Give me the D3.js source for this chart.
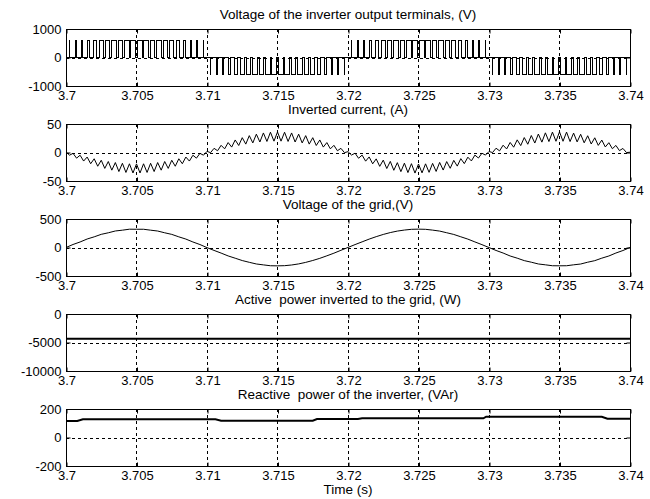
<!DOCTYPE html>
<html><head><meta charset="utf-8">
<script src="https://cdn.jsdelivr.net/npm/d3@7"></script>
<style>
body{margin:0;background:#fff}
svg{display:block}
text{font-family:"Liberation Sans",Arial,sans-serif;fill:#000}
</style>
</head><body>
<script>
// ---------------- data ----------------
const timeTicks = [3.7, 3.705, 3.71, 3.715, 3.72, 3.725, 3.73, 3.735, 3.74];
const timeTickLabels = ["3.7", "3.705", "3.71", "3.715", "3.72", "3.725", "3.73", "3.735", "3.74"];
const timeLabel = "Time (s)";

const panelTitles = [
  "Voltage of the inverter output terminals, (V)",
  "Inverted current, (A)",
  "Voltage of the grid,(V)",
  "Active  power inverted to the grid, (W)",
  "Reactive  power of the inverter, (VAr)"
];
const yTicks1 = [-1000, 0, 1000];
const yTicks2 = [-50, 0, 50];
const yTicks3 = [-500, 0, 500];
const yTicks4 = [-10000, -5000, 0];
const yTicks5 = [-200, 0, 200];

// Panel 1: PWM output voltage (duty of each switching pulse, per half cycle)
const pwmHalfCycleStart = [3.70, 3.71, 3.72, 3.73];
const pwmPolarity = [1, -1, 1, -1];
const pwmLevel = 600;
const pwmDuty1 = [0.06,0.17,0.27,0.37,0.47,0.55,0.62,0.69,0.73,0.76,0.78,0.78,0.76,0.73,0.68,0.63,0.55,0.46,0.38,0.27,0.16,0.06];
const pwmDuty2 = [0.05,0.16,0.28,0.38,0.46,0.56,0.63,0.68,0.74,0.76,0.77,0.78,0.77,0.73,0.69,0.62,0.55,0.47,0.37,0.28,0.17,0.05];
const pwmDuty3 = [0.06,0.17,0.27,0.38,0.47,0.55,0.63,0.69,0.73,0.77,0.78,0.77,0.76,0.74,0.68,0.62,0.56,0.46,0.37,0.27,0.16,0.06];
const pwmDuty4 = [0.05,0.16,0.27,0.37,0.47,0.56,0.62,0.68,0.73,0.76,0.78,0.78,0.76,0.73,0.69,0.63,0.55,0.47,0.38,0.28,0.17,0.06];
const pwmEndTime = 3.74;

// Panel 2: inverter current, sampled every 0.25 ms
const currentStart = 3.7;
const currentStep = 0.00025;
const currentValues = [
  1, -4.7, -1.5, -9.9, -4.8, -15.0, -8.0, -19.7, -11.0, -24.1, -13.6, -27.9, -15.8, -31.0, -17.6, -33.4, -18.9, -35.0, -19.8, -35.9,
  -20.0, -35.9, -19.8, -35.0, -18.9, -33.4, -17.6, -31.0, -15.8, -27.9, -13.6, -24.1, -11.0, -19.7, -8.0, -15.0, -4.8, -9.9, -1.5, -4.7,
  2, -0.3, 7.3, 3.1, 12.6, 6.4, 17.4, 9.5, 22.0, 12.3, 26.0, 14.7, 29.6, 16.8, 32.2, 18.4, 34.3, 19.4, 35.6, 19.9,
  36.0, 19.9, 35.6, 19.4, 34.3, 18.4, 32.2, 16.8, 29.6, 14.7, 26.0, 12.3, 22.0, 9.5, 17.4, 6.4, 12.6, 3.1, 7.3, -0.3,
  1.5, -4.5, -1.2, -10.1, -4.6, -15.2, -7.8, -19.9, -11.2, -24.3, -13.4, -28.1, -15.6, -31.2, -17.8, -33.6, -18.7, -35.2, -19.6, -36.1,
  -20.2, -35.7, -19.9, -34.8, -19.1, -33.2, -17.4, -30.8, -15.9, -27.7, -13.8, -23.9, -10.8, -19.5, -8.2, -14.8, -4.6, -9.7, -1.3, -4.5,
  1.8, -0.1, 7.5, 2.9, 12.8, 6.2, 17.6, 9.3, 22.2, 12.1, 26.2, 14.5, 29.8, 16.6, 32.4, 18.2, 34.5, 19.2, 35.8, 19.7,
  36.2, 19.7, 35.8, 19.2, 34.1, 18.6, 32.0, 17.0, 29.4, 14.9, 25.8, 12.5, 21.8, 9.7, 17.2, 6.6, 12.4, 3.3, 7.1, -0.1,
  0.5
];

// Panel 3: grid voltage, sampled every 0.5 ms
const gridVoltStart = 3.7;
const gridVoltStep = 0.0005;
const gridVoltValues = [
  0, 53, 97, 149, 187, 231, 258, 290, 304, 321, 320, 320, 304, 289, 258, 230, 187, 148, 97, 52, -2,
  -51, -98, -148, -188, -229, -260, -289, -305, -320, -322, -319, -307, -288, -261, -228, -190, -146, -100, -49, 1,
  51, 99, 147, 190, 229, 262, 288, 306, 319, 322, 319, 305, 288, 259, 229, 188, 147, 98, 50, -1,
  -52, -97, -149, -187, -230, -258, -289, -304, -320, -321, -320, -304, -290, -258, -231, -187, -149, -97, -53, 0
];

// Panel 4: active power
const activePowerTimes = [3.7, 3.71, 3.72, 3.73, 3.74];
const activePowerValues = [-4350, -4345, -4350, -4355, -4350];

// Panel 5: reactive power
const reactivePowerTimes = [3.7, 3.7008, 3.7012, 3.7106, 3.7110, 3.7175, 3.7178, 3.7207, 3.7210, 3.7296, 3.7298, 3.7380, 3.7384, 3.74];
const reactivePowerValues = [116, 116, 128, 128, 118, 118, 130, 130, 135, 135, 146, 146, 132, 132];

// ---------------- chart ----------------
const W = 650, H = 499;
const left = 66, right = 630;
const panelTop0 = 29, panelPitch = 95, panelH = 57;

const svg = d3.select("body").append("svg").attr("width", W).attr("height", H);
const x = d3.scaleLinear().domain([timeTicks[0], timeTicks[timeTicks.length - 1]]).range([left, right]);

// series construction
const pwmDuty = [pwmDuty1, pwmDuty2, pwmDuty3, pwmDuty4];
const pwmPoints = [[pwmHalfCycleStart[0], 0]];
pwmHalfCycleStart.forEach((t0, h) => {
  const d = pwmDuty[h], n = d.length, T = 0.01 / n, s = pwmPolarity[h] * pwmLevel;
  d.forEach((duty, i) => {
    const c = t0 + (i + 0.5) * T, w = duty * T;
    pwmPoints.push([c - w / 2, 0], [c - w / 2, s], [c + w / 2, s], [c + w / 2, 0]);
  });
});
pwmPoints.push([pwmEndTime, 0], [pwmEndTime, pwmLevel]);

const currentPoints = currentValues.map((v, i) => [currentStart + i * currentStep, v]);
const gridPoints = gridVoltValues.map((v, i) => [gridVoltStart + i * gridVoltStep, v]);
const activePoints = activePowerTimes.map((t, i) => [t, activePowerValues[i]]);
const reactivePoints = reactivePowerTimes.map((t, i) => [t, reactivePowerValues[i]]);

const panels = [
  {title: panelTitles[0], ticks: yTicks1, pts: pwmPoints, sw: 1, crisp: true},
  {title: panelTitles[1], ticks: yTicks2, pts: currentPoints, sw: 1},
  {title: panelTitles[2], ticks: yTicks3, pts: gridPoints, sw: 1},
  {title: panelTitles[3], ticks: yTicks4, pts: activePoints, sw: 2},
  {title: panelTitles[4], ticks: yTicks5, pts: reactivePoints, sw: 2}
];

panels.forEach((p, k) => {
  const top = panelTop0 + k * panelPitch, bottom = top + panelH;
  const y = d3.scaleLinear().domain([p.ticks[0], p.ticks[p.ticks.length - 1]]).range([bottom, top]);
  const g = svg.append("g");

  const clipId = "clip" + k;
  svg.append("clipPath").attr("id", clipId).append("rect")
    .attr("x", left).attr("y", top).attr("width", right - left).attr("height", panelH);

  // grid
  const grid = g.append("g").attr("stroke", "#000").attr("stroke-width", 1).attr("stroke-dasharray", "3,3");
  timeTicks.slice(1, -1).forEach(t => {
    const xx = Math.round(x(t)) + 0.5;
    grid.append("line").attr("x1", xx).attr("x2", xx).attr("y1", top).attr("y2", bottom);
  });
  p.ticks.slice(1, -1).forEach(v => {
    const yy = Math.round(y(v)) + 0.5;
    grid.append("line").attr("x1", left).attr("x2", right).attr("y1", yy).attr("y2", yy);
  });

  // data
  g.append("path").datum(p.pts)
    .attr("clip-path", `url(#${clipId})`)
    .attr("fill", "none").attr("stroke", "#000").attr("stroke-width", p.sw)
    .attr("stroke-linejoin", "miter")
    .attr("shape-rendering", p.crisp ? "crispEdges" : null)
    .attr("d", d3.line().x(d => x(d[0])).y(d => y(d[1])));

  // axes
  const axB = d3.axisBottom(x).tickValues(timeTicks).tickFormat((d, i) => timeTickLabels[i]).tickSize(-4).tickPadding(4);
  const gb = g.append("g").attr("transform", `translate(0.5,${bottom + 0.5})`).call(axB);
  const axT = d3.axisTop(x).tickValues(timeTicks).tickFormat("").tickSize(-4);
  const gt = g.append("g").attr("transform", `translate(0.5,${top + 0.5})`).call(axT);
  const axL = d3.axisLeft(y).tickValues(p.ticks).tickFormat(d => String(d)).tickSize(-4).tickPadding(5);
  const gl = g.append("g").attr("transform", `translate(${left + 0.5},0)`).call(axL);
  const axR = d3.axisRight(y).tickValues(p.ticks).tickFormat("").tickSize(-4);
  const gr = g.append("g").attr("transform", `translate(${right + 0.5},0)`).call(axR);
  [gb, gt, gl, gr].forEach(a => {
    a.select(".domain").remove();
    a.selectAll("text").attr("font-size", 13).attr("font-family", null).style("fill", "#000");
    a.selectAll("line").attr("stroke", "#000");
    a.attr("font-family", null).attr("font-size", null);
  });

  // box
  g.append("rect").attr("x", left + 0.5).attr("y", top + 0.5)
    .attr("width", right - left).attr("height", panelH)
    .attr("fill", "none").attr("stroke", "#000").attr("stroke-width", 1);

  // title
  g.append("text").attr("x", (left + right) / 2).attr("y", top - 10)
    .attr("text-anchor", "middle").attr("font-size", 13.5)
    .style("white-space", "pre").text(p.title);
});

svg.append("text").attr("x", (left + right) / 2).attr("y", 494)
  .attr("text-anchor", "middle").attr("font-size", 13.5).text(timeLabel);
</script>
</body></html>
